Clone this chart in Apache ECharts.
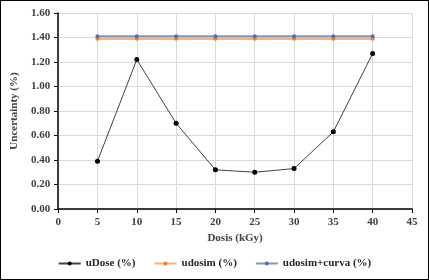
<!DOCTYPE html>
<html>
<head>
<meta charset="utf-8">
<script src="https://cdn.jsdelivr.net/npm/echarts@6/dist/echarts.min.js"></script>
<style>
  html, body { margin: 0; padding: 0; background: #fff; }
  #chart { width: 427px; height: 278px; border: 1px solid #000; }
</style>
</head>
<body>
<div id="chart"></div>
<script>
var dosis = [5, 10, 15, 20, 25, 30, 35, 40];
var uDose = [0.39, 1.22, 0.70, 0.32, 0.30, 0.33, 0.63, 1.27];
var udosim = [1.39, 1.39, 1.39, 1.39, 1.39, 1.39, 1.39, 1.39];
var udosimCurva = [1.41, 1.41, 1.41, 1.41, 1.41, 1.41, 1.41, 1.41];

function pairs(vals) {
  return dosis.map(function (d, i) { return [d, vals[i]]; });
}

var font = "'Liberation Serif', 'Times New Roman', serif";
var myChart = echarts.init(document.getElementById("chart"));
myChart.setOption({
  animation: false,
  textStyle: { fontFamily: font },
  grid: { left: 56, right: 16, top: 12, bottom: 70 },
  legend: {
    bottom: 5,
    itemWidth: 22,
    itemHeight: 5,
    itemGap: 18,
    textStyle: { fontFamily: font, fontWeight: "bold", fontSize: 11, color: "#262626" },
    data: ["uDose (%)", "udosim (%)", "udosim+curva (%)"]
  },
  xAxis: {
    type: "value",
    min: 0, max: 45, interval: 5,
    name: "Dosis (kGy)",
    nameLocation: "middle",
    nameGap: 23,
    nameTextStyle: { fontFamily: font, fontWeight: "bold", fontSize: 11, color: "#404040" },
    axisLine: { lineStyle: { color: "#000", width: 1.5 } },
    axisTick: { show: true, length: 4, lineStyle: { color: "#000" } },
    axisLabel: { fontFamily: font, fontWeight: "bold", fontSize: 11, color: "#404040", margin: 8 },
    splitLine: { show: true, lineStyle: { color: "#d9d9d9" } }
  },
  yAxis: {
    type: "value",
    min: 0, max: 1.6, interval: 0.2,
    name: "Uncertainty (%)",
    nameLocation: "middle",
    nameGap: 34,
    nameTextStyle: { fontFamily: font, fontWeight: "bold", fontSize: 11, color: "#404040" },
    axisLine: { show: true, lineStyle: { color: "#000", width: 1.5 } },
    axisTick: { show: true, length: 4, lineStyle: { color: "#000" } },
    axisLabel: {
      fontFamily: font, fontWeight: "bold", fontSize: 11, color: "#404040", margin: 8,
      formatter: function (v) { return v.toFixed(2); }
    },
    splitLine: { show: true, lineStyle: { color: "#d9d9d9" } }
  },
  series: [
    {
      name: "uDose (%)",
      type: "line",
      data: pairs(uDose),
      symbol: "circle",
      symbolSize: 5,
      itemStyle: { color: "#000" },
      lineStyle: { color: "#404040", width: 1 }
    },
    {
      name: "udosim (%)",
      type: "line",
      data: pairs(udosim),
      symbol: "circle",
      symbolSize: 4,
      itemStyle: { color: "#ed7d31" },
      lineStyle: { color: "#f4b183", width: 2.5 }
    },
    {
      name: "udosim+curva (%)",
      type: "line",
      data: pairs(udosimCurva),
      symbol: "circle",
      symbolSize: 4,
      itemStyle: { color: "#4472c4" },
      lineStyle: { color: "#8497b0", width: 2 }
    }
  ]
});
</script>
</body>
</html>
